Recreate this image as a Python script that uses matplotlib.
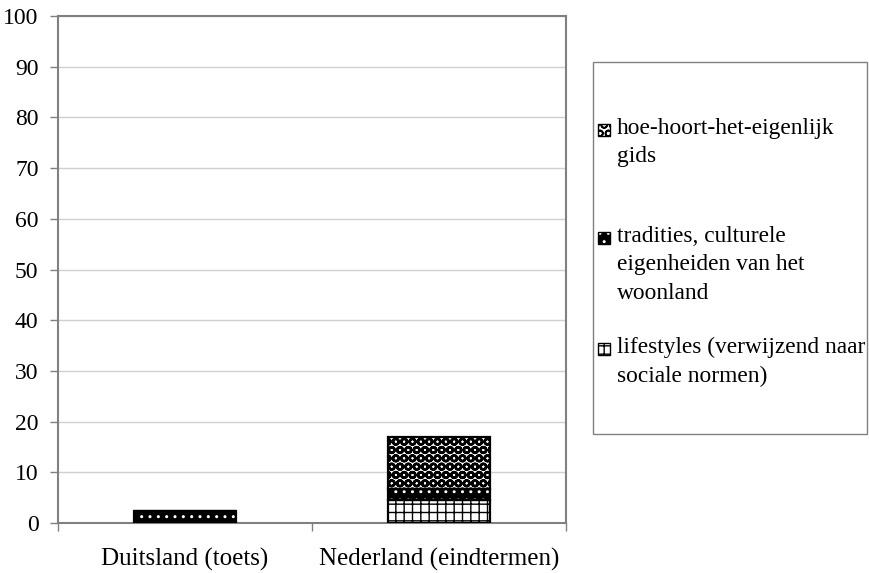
import matplotlib.pyplot as plt
from matplotlib.patches import Rectangle

plt.rcParams['font.family'] = ['Liberation Serif', 'DejaVu Serif']
plt.rcParams['hatch.linewidth'] = 1.0

categories = ['Duitsland (toets)', 'Nederland (eindtermen)']
series = ['lifestyles (verwijzend naar\nsociale normen)',
          'tradities, culturele\neigenheiden van het\nwoonland',
          'hoe-hoort-het-eigenlijk\ngids']
lifestyles = [0, 4.5]
tradities = [2.3, 2.3]
hoe_hoort = [0, 10.2]
yticks = list(range(0, 101, 10))

# pattern styles per series: (face, hatch colour, hatch, hatch width)
styles = [('white', 'black', '++', 1.0),
          ('black', 'white', '..', 1.0),
          ('white', 'black', 'OO', 1.8)]

fig = plt.figure(figsize=(8.69, 5.73), dpi=100)
ax = fig.add_axes([58 / 869, 50 / 573, 508 / 869, 507 / 573])

x = range(len(categories))
bottom = [0, 0]
for vals, (fc, hc, h, hw) in zip([lifestyles, tradities, hoe_hoort], styles):
    with plt.rc_context({'hatch.linewidth': hw}):
        ax.bar(x, vals, 0.4, bottom=bottom, facecolor=fc, edgecolor=hc,
               hatch=h, linewidth=0, zorder=2)
    ax.bar(x, vals, 0.4, bottom=bottom, facecolor='none', edgecolor='black',
           linewidth=1.6, zorder=3)
    bottom = [b + v for b, v in zip(bottom, vals)]

ax.set_xlim(-0.5, 1.5)
ax.set_ylim(0, 100)
ax.set_yticks(yticks)
ax.tick_params(axis='y', labelsize=17, length=6, width=1, color='#808080', pad=8)
ax.set_xticks(list(x))
ax.set_xticklabels(categories, fontsize=18)
ax.tick_params(axis='x', which='major', length=0, pad=18)
ax.set_xticks([-0.5, 0.5, 1.5], minor=True)
ax.tick_params(axis='x', which='minor', length=6, width=1, color='#808080')
ax.grid(axis='y', color='#d0d0d0', linewidth=1, zorder=0)
ax.set_axisbelow(True)
for s in ax.spines.values():
    s.set_color('#808080')
    s.set_linewidth(1.5)

# legend box, drawn in figure pixels
W, H = 869, 573
fig.patches.append(Rectangle((593 / W, (H - 434) / H), 274 / W, 372 / H,
                             transform=fig.transFigure, facecolor='white',
                             edgecolor='#808080', linewidth=1))
tops = [130, 238, 349]
for lab, (fc, hc, h, hw), ty in zip(series[::-1], styles[::-1], tops):
    with plt.rc_context({'hatch.linewidth': min(hw, 1.2)}):
        fig.patches.append(Rectangle((598 / W, (H - ty - 6) / H), 12 / W, 12 / H,
                                     transform=fig.transFigure, facecolor=fc,
                                     edgecolor=hc, hatch=h, linewidth=0))
    fig.patches.append(Rectangle((598 / W, (H - ty - 6) / H), 12 / W, 12 / H,
                                 transform=fig.transFigure, facecolor='none',
                                 edgecolor='black', linewidth=1))
    fig.text(617 / W, (H - ty + 12) / H, lab, fontsize=16.8, va='top',
             ha='left', linespacing=1.46)

fig.savefig('out.png', dpi=100)
